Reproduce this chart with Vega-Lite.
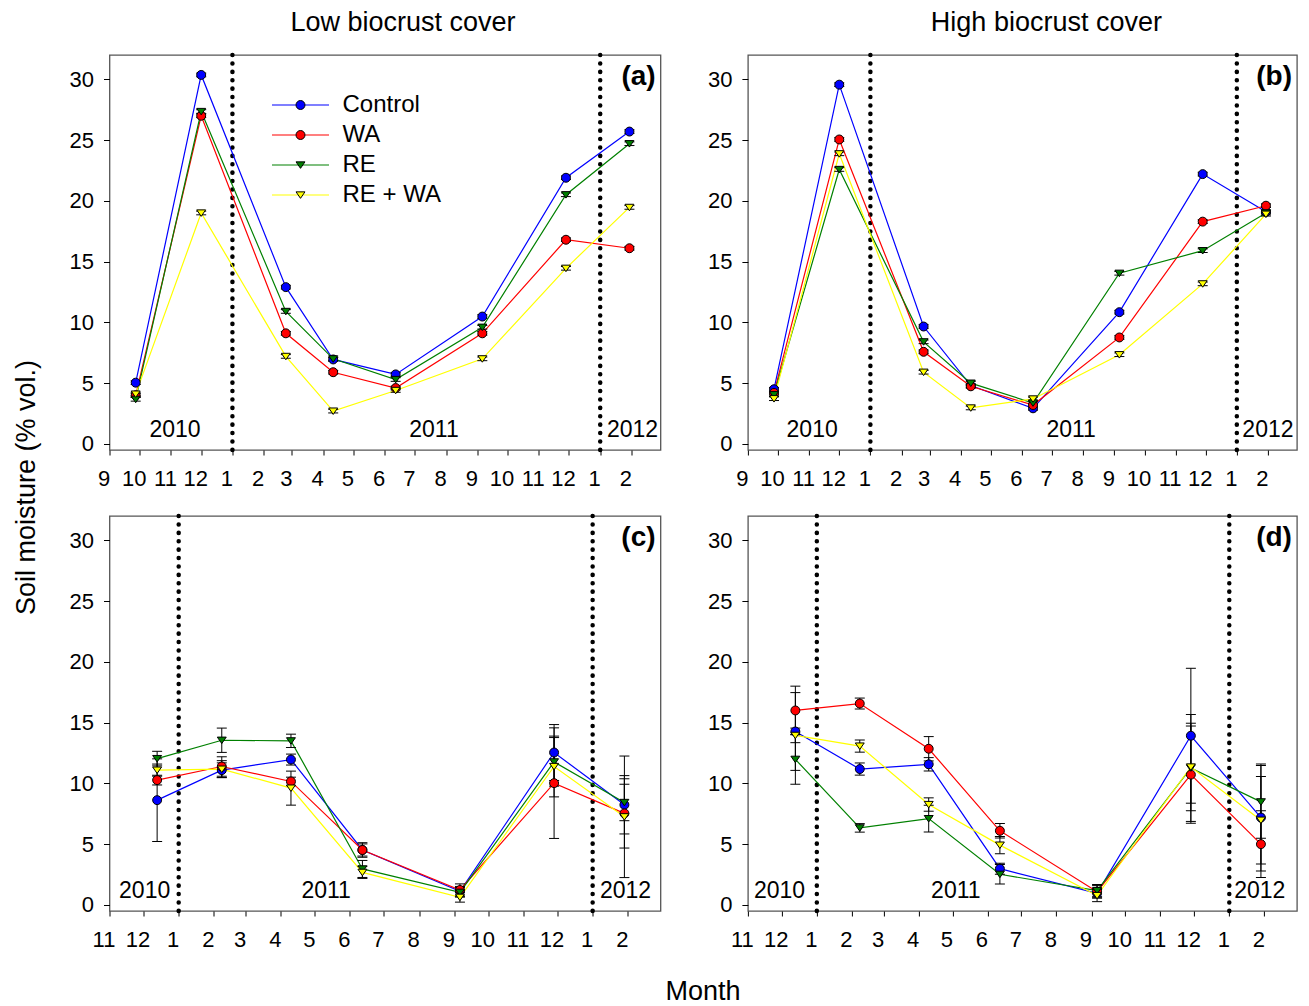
{
 "$schema": "https://vega.github.io/schema/vega-lite/v6.json",
 "autosize": {"type": "pad"},
 "padding": {"left": 11.5, "top": 8, "right": 5, "bottom": 5},
 "background": "white",
 "config": {
  "font": "Liberation Sans",
  "view": {"stroke": "#555555", "strokeWidth": 1.3},
  "axis": {"domain": false, "grid": false, "tickColor": "black", "tickWidth": 1, "labelColor": "black", "labelFont": "Liberation Sans", "labelFontSize": 22, "titleFont": "Liberation Sans", "titleFontSize": 27, "titleFontWeight": "normal", "titleColor": "black"},
  "title": {"font": "Liberation Sans", "fontSize": 27, "fontWeight": "normal", "color": "black"},
  "legend": {"labelFont": "Liberation Sans"}
 },
 "datasets": {
  "breaks": [{"d": "2011-01-01"}, {"d": "2012-01-01"}],
  "ann": [
   {"p": "a", "d": "2010-11-05", "t": "2010"}, {"p": "a", "d": "2011-07-20", "t": "2011"}, {"p": "a", "d": "2012-02-02", "t": "2012"},
   {"p": "b", "d": "2010-11-04", "t": "2010"}, {"p": "b", "d": "2011-07-20", "t": "2011"}, {"p": "b", "d": "2012-02-01", "t": "2012"},
   {"p": "c", "d": "2010-12-02", "t": "2010"}, {"p": "c", "d": "2011-05-11", "t": "2011"}, {"p": "c", "d": "2012-01-30", "t": "2012"},
   {"p": "d", "d": "2010-11-29", "t": "2010"}, {"p": "d", "d": "2011-05-04", "t": "2011"}, {"p": "d", "d": "2012-01-28", "t": "2012"}
  ],
  "lab": [
   {"p": "a", "d": "2012-02-29", "t": "(a)"}, {"p": "b", "d": "2012-02-29", "t": "(b)"},
   {"p": "c", "d": "2012-02-29", "t": "(c)"}, {"p": "d", "d": "2012-02-29", "t": "(d)"}
  ],
  "sm": [
   {"p":"a","d":"2010-09-27","s":"Control","v":5.04,"lo":4.89,"hi":5.19},
   {"p":"a","d":"2010-12-01","s":"Control","v":30.36,"lo":30.21,"hi":30.51},
   {"p":"a","d":"2011-02-23","s":"Control","v":12.9,"lo":12.75,"hi":13.05},
   {"p":"a","d":"2011-04-11","s":"Control","v":6.95,"lo":6.8,"hi":7.1},
   {"p":"a","d":"2011-06-12","s":"Control","v":5.72,"lo":5.57,"hi":5.87},
   {"p":"a","d":"2011-09-06","s":"Control","v":10.48,"lo":10.33,"hi":10.63},
   {"p":"a","d":"2011-11-28","s":"Control","v":21.9,"lo":21.75,"hi":22.05},
   {"p":"a","d":"2012-01-30","s":"Control","v":25.7,"lo":25.55,"hi":25.85},
   {"p":"a","d":"2010-09-27","s":"WA","v":4.0,"lo":3.85,"hi":4.15},
   {"p":"a","d":"2010-12-01","s":"WA","v":27.0,"lo":26.85,"hi":27.15},
   {"p":"a","d":"2011-02-23","s":"WA","v":9.1,"lo":8.95,"hi":9.25},
   {"p":"a","d":"2011-04-11","s":"WA","v":5.9,"lo":5.75,"hi":6.05},
   {"p":"a","d":"2011-06-12","s":"WA","v":4.6,"lo":4.45,"hi":4.75},
   {"p":"a","d":"2011-09-06","s":"WA","v":9.1,"lo":8.95,"hi":9.25},
   {"p":"a","d":"2011-11-28","s":"WA","v":16.8,"lo":16.65,"hi":16.95},
   {"p":"a","d":"2012-01-30","s":"WA","v":16.1,"lo":15.95,"hi":16.25},
   {"p":"a","d":"2010-09-27","s":"RE","v":3.67,"lo":3.52,"hi":3.82},
   {"p":"a","d":"2010-12-01","s":"RE","v":27.35,"lo":27.2,"hi":27.5},
   {"p":"a","d":"2011-02-23","s":"RE","v":10.9,"lo":10.75,"hi":11.05},
   {"p":"a","d":"2011-04-11","s":"RE","v":7.0,"lo":6.85,"hi":7.15},
   {"p":"a","d":"2011-06-12","s":"RE","v":5.3,"lo":5.15,"hi":5.45},
   {"p":"a","d":"2011-09-06","s":"RE","v":9.6,"lo":9.45,"hi":9.75},
   {"p":"a","d":"2011-11-28","s":"RE","v":20.5,"lo":20.35,"hi":20.65},
   {"p":"a","d":"2012-01-30","s":"RE","v":24.7,"lo":24.55,"hi":24.85},
   {"p":"a","d":"2010-09-27","s":"RE + WA","v":4.1,"lo":3.95,"hi":4.25},
   {"p":"a","d":"2010-12-01","s":"RE + WA","v":19.0,"lo":18.85,"hi":19.15},
   {"p":"a","d":"2011-02-23","s":"RE + WA","v":7.2,"lo":7.05,"hi":7.35},
   {"p":"a","d":"2011-04-11","s":"RE + WA","v":2.7,"lo":2.55,"hi":2.85},
   {"p":"a","d":"2011-06-12","s":"RE + WA","v":4.4,"lo":4.25,"hi":4.55},
   {"p":"a","d":"2011-09-06","s":"RE + WA","v":7.0,"lo":6.85,"hi":7.15},
   {"p":"a","d":"2011-11-28","s":"RE + WA","v":14.45,"lo":14.3,"hi":14.6},
   {"p":"a","d":"2012-01-30","s":"RE + WA","v":19.46,"lo":19.31,"hi":19.61},

   {"p":"b","d":"2010-09-27","s":"Control","v":4.5,"lo":4.35,"hi":4.65},
   {"p":"b","d":"2010-12-01","s":"Control","v":29.56,"lo":29.41,"hi":29.71},
   {"p":"b","d":"2011-02-23","s":"Control","v":9.66,"lo":9.51,"hi":9.81},
   {"p":"b","d":"2011-04-11","s":"Control","v":4.8,"lo":4.65,"hi":4.95},
   {"p":"b","d":"2011-06-12","s":"Control","v":2.93,"lo":2.78,"hi":3.08},
   {"p":"b","d":"2011-09-06","s":"Control","v":10.84,"lo":10.69,"hi":10.99},
   {"p":"b","d":"2011-11-28","s":"Control","v":22.2,"lo":22.05,"hi":22.35},
   {"p":"b","d":"2012-01-30","s":"Control","v":19.1,"lo":18.95,"hi":19.25},
   {"p":"b","d":"2010-09-27","s":"WA","v":4.2,"lo":4.05,"hi":4.35},
   {"p":"b","d":"2010-12-01","s":"WA","v":25.05,"lo":24.9,"hi":25.2},
   {"p":"b","d":"2011-02-23","s":"WA","v":7.58,"lo":7.43,"hi":7.73},
   {"p":"b","d":"2011-04-11","s":"WA","v":4.74,"lo":4.59,"hi":4.89},
   {"p":"b","d":"2011-06-12","s":"WA","v":3.2,"lo":3.05,"hi":3.35},
   {"p":"b","d":"2011-09-06","s":"WA","v":8.76,"lo":8.61,"hi":8.91},
   {"p":"b","d":"2011-11-28","s":"WA","v":18.29,"lo":18.14,"hi":18.44},
   {"p":"b","d":"2012-01-30","s":"WA","v":19.6,"lo":19.45,"hi":19.75},
   {"p":"b","d":"2010-09-27","s":"RE","v":4.05,"lo":3.9,"hi":4.2},
   {"p":"b","d":"2010-12-01","s":"RE","v":22.58,"lo":22.43,"hi":22.73},
   {"p":"b","d":"2011-02-23","s":"RE","v":8.4,"lo":8.25,"hi":8.55},
   {"p":"b","d":"2011-04-11","s":"RE","v":5.0,"lo":4.85,"hi":5.15},
   {"p":"b","d":"2011-06-12","s":"RE","v":3.37,"lo":3.22,"hi":3.52},
   {"p":"b","d":"2011-09-06","s":"RE","v":14.04,"lo":13.89,"hi":14.19},
   {"p":"b","d":"2011-11-28","s":"RE","v":15.9,"lo":15.75,"hi":16.05},
   {"p":"b","d":"2012-01-30","s":"RE","v":19.0,"lo":18.85,"hi":19.15},
   {"p":"b","d":"2010-09-27","s":"RE + WA","v":3.72,"lo":3.57,"hi":3.87},
   {"p":"b","d":"2010-12-01","s":"RE + WA","v":23.87,"lo":23.72,"hi":24.02},
   {"p":"b","d":"2011-02-23","s":"RE + WA","v":5.9,"lo":5.75,"hi":6.05},
   {"p":"b","d":"2011-04-11","s":"RE + WA","v":2.96,"lo":2.81,"hi":3.11},
   {"p":"b","d":"2011-06-12","s":"RE + WA","v":3.7,"lo":3.55,"hi":3.85},
   {"p":"b","d":"2011-09-06","s":"RE + WA","v":7.34,"lo":7.19,"hi":7.49},
   {"p":"b","d":"2011-11-28","s":"RE + WA","v":13.17,"lo":13.02,"hi":13.32},
   {"p":"b","d":"2012-01-30","s":"RE + WA","v":18.9,"lo":18.75,"hi":19.05},

   {"p":"c","d":"2010-12-13","s":"Control","v":8.62,"lo":5.22,"hi":12.02},
   {"p":"c","d":"2011-02-08","s":"Control","v":11.09,"lo":10.49,"hi":11.69},
   {"p":"c","d":"2011-04-10","s":"Control","v":11.96,"lo":11.51,"hi":12.41},
   {"p":"c","d":"2011-06-12","s":"Control","v":4.52,"lo":4.02,"hi":5.02},
   {"p":"c","d":"2011-09-06","s":"Control","v":1.12,"lo":0.72,"hi":1.52},
   {"p":"c","d":"2011-11-28","s":"Control","v":12.54,"lo":10.24,"hi":14.84},
   {"p":"c","d":"2012-01-29","s":"Control","v":8.24,"lo":5.84,"hi":10.64},
   {"p":"c","d":"2010-12-13","s":"WA","v":10.27,"lo":9.87,"hi":10.67},
   {"p":"c","d":"2011-02-08","s":"WA","v":11.39,"lo":10.59,"hi":12.19},
   {"p":"c","d":"2011-04-10","s":"WA","v":10.16,"lo":9.81,"hi":10.51},
   {"p":"c","d":"2011-06-12","s":"WA","v":4.52,"lo":3.92,"hi":5.12},
   {"p":"c","d":"2011-09-06","s":"WA","v":1.23,"lo":0.73,"hi":1.73},
   {"p":"c","d":"2011-11-28","s":"WA","v":10.02,"lo":5.47,"hi":14.57},
   {"p":"c","d":"2012-01-29","s":"WA","v":7.53,"lo":4.68,"hi":10.38},
   {"p":"c","d":"2010-12-13","s":"RE","v":12.04,"lo":11.44,"hi":12.64},
   {"p":"c","d":"2011-02-08","s":"RE","v":13.55,"lo":12.55,"hi":14.55},
   {"p":"c","d":"2011-04-10","s":"RE","v":13.5,"lo":12.95,"hi":14.05},
   {"p":"c","d":"2011-06-12","s":"RE","v":2.96,"lo":2.26,"hi":3.66},
   {"p":"c","d":"2011-09-06","s":"RE","v":1.04,"lo":0.64,"hi":1.44},
   {"p":"c","d":"2011-11-28","s":"RE","v":11.77,"lo":9.77,"hi":13.77},
   {"p":"c","d":"2012-01-29","s":"RE","v":8.43,"lo":6.93,"hi":9.93},
   {"p":"c","d":"2010-12-13","s":"RE + WA","v":11.09,"lo":10.59,"hi":11.59},
   {"p":"c","d":"2011-02-08","s":"RE + WA","v":11.17,"lo":10.47,"hi":11.87},
   {"p":"c","d":"2011-04-10","s":"RE + WA","v":9.61,"lo":8.21,"hi":11.01},
   {"p":"c","d":"2011-06-12","s":"RE + WA","v":2.68,"lo":2.18,"hi":3.18},
   {"p":"c","d":"2011-09-06","s":"RE + WA","v":0.63,"lo":0.23,"hi":1.03},
   {"p":"c","d":"2011-11-28","s":"RE + WA","v":11.39,"lo":8.89,"hi":13.89},
   {"p":"c","d":"2012-01-29","s":"RE + WA","v":7.25,"lo":2.25,"hi":12.25},

   {"p":"d","d":"2010-12-13","s":"Control","v":14.27,"lo":11.07,"hi":17.47},
   {"p":"d","d":"2011-02-08","s":"Control","v":11.18,"lo":10.68,"hi":11.68},
   {"p":"d","d":"2011-04-10","s":"Control","v":11.57,"lo":11.02,"hi":12.12},
   {"p":"d","d":"2011-06-12","s":"Control","v":2.98,"lo":2.53,"hi":3.43},
   {"p":"d","d":"2011-09-06","s":"Control","v":0.96,"lo":0.56,"hi":1.36},
   {"p":"d","d":"2011-11-28","s":"Control","v":13.92,"lo":8.37,"hi":19.47},
   {"p":"d","d":"2012-01-29","s":"Control","v":7.19,"lo":2.79,"hi":11.59},
   {"p":"d","d":"2010-12-13","s":"WA","v":16.0,"lo":14.0,"hi":18.0},
   {"p":"d","d":"2011-02-08","s":"WA","v":16.57,"lo":16.12,"hi":17.02},
   {"p":"d","d":"2011-04-10","s":"WA","v":12.85,"lo":11.85,"hi":13.85},
   {"p":"d","d":"2011-06-12","s":"WA","v":6.1,"lo":5.5,"hi":6.7},
   {"p":"d","d":"2011-09-06","s":"WA","v":1.09,"lo":0.59,"hi":1.59},
   {"p":"d","d":"2011-11-28","s":"WA","v":10.72,"lo":6.72,"hi":14.72},
   {"p":"d","d":"2012-01-29","s":"WA","v":5.0,"lo":2.25,"hi":7.75},
   {"p":"d","d":"2010-12-13","s":"RE","v":11.98,"lo":9.93,"hi":14.03},
   {"p":"d","d":"2011-02-08","s":"RE","v":6.34,"lo":5.99,"hi":6.69},
   {"p":"d","d":"2011-04-10","s":"RE","v":7.1,"lo":6.0,"hi":8.2},
   {"p":"d","d":"2011-06-12","s":"RE","v":2.52,"lo":1.72,"hi":3.32},
   {"p":"d","d":"2011-09-06","s":"RE","v":1.18,"lo":0.68,"hi":1.68},
   {"p":"d","d":"2011-11-28","s":"RE","v":11.27,"lo":6.87,"hi":15.67},
   {"p":"d","d":"2012-01-29","s":"RE","v":8.48,"lo":5.48,"hi":11.48},
   {"p":"d","d":"2010-12-13","s":"RE + WA","v":13.95,"lo":13.35,"hi":14.55},
   {"p":"d","d":"2011-02-08","s":"RE + WA","v":13.07,"lo":12.57,"hi":13.57},
   {"p":"d","d":"2011-04-10","s":"RE + WA","v":8.26,"lo":7.71,"hi":8.81},
   {"p":"d","d":"2011-06-12","s":"RE + WA","v":4.92,"lo":4.22,"hi":5.62},
   {"p":"d","d":"2011-09-06","s":"RE + WA","v":0.77,"lo":0.27,"hi":1.27},
   {"p":"d","d":"2011-11-28","s":"RE + WA","v":11.35,"lo":7.75,"hi":14.95},
   {"p":"d","d":"2012-01-29","s":"RE + WA","v":6.97,"lo":3.37,"hi":10.57}
  ]
 },
 "columns": 2,
 "spacing": {"row": 66, "column": 87.4},
 "bounds": "flush",
 "concat": [
  {
   "width": 551, "height": 395,
   "title": {"text": "Low biocrust cover", "anchor": "middle", "offset": 16, "dx": 18},
   "layer": [
    {"data": {"name": "breaks"}, "mark": {"type": "rule", "color": "black", "strokeWidth": 4.5, "strokeDash": [0.1, 8.3], "strokeCap": "round"},
     "encoding": {"x": {"field": "d", "type": "temporal", "scale": {"type": "utc", "nice": false, "domain": [{"year": 2010, "month": 9, "date": 1, "utc": true}, {"year": 2012, "month": 2, "date": 29, "hours": 20, "utc": true}]},
       "axis": {"title": null, "labelExpr": "utcFormat(datum.value, '%-m')", "tickCount": {"interval": "month", "step": 1}, "labelOffset": -6, "tickSize": 5, "labelPadding": 13, "labelFlush": false, "labelOverlap": false}}}},
    {"data": {"name": "ann"}, "transform": [{"filter": "datum.p == 'a'"}], "mark": {"type": "text", "fontSize": 23, "baseline": "middle", "align": "center", "color": "black"},
     "encoding": {"x": {"field": "d", "type": "temporal"}, "y": {"datum": 1.15, "type": "quantitative"}, "text": {"field": "t"}}},
    {"data": {"name": "lab"}, "transform": [{"filter": "datum.p == 'a'"}], "mark": {"type": "text", "fontSize": 28, "fontWeight": "bold", "baseline": "middle", "align": "right", "dx": -4, "color": "black"},
     "encoding": {"x": {"field": "d", "type": "temporal"}, "y": {"datum": 30.2, "type": "quantitative"}, "text": {"field": "t"}}},
    {"data": {"name": "sm"}, "transform": [{"filter": "datum.p == 'a'"}], "mark": {"type": "line", "strokeWidth": 1.2},
     "encoding": {"x": {"field": "d", "type": "temporal"},
      "y": {"field": "v", "type": "quantitative", "scale": {"domain": [-0.5, 32], "nice": false, "zero": false},
       "axis": {"values": [0, 5, 10, 15, 20, 25, 30], "tickSize": 6, "labelPadding": 10, "title": "Soil moisture (% vol.)", "titleX": -83, "titleY": 432, "titleAngle": 270, "titleBaseline": "middle", "titleAlign": "center"}},
      "stroke": {"field": "s", "type": "nominal", "scale": {"domain": ["WA", "Control", "RE", "RE + WA"], "range": ["#ff0000", "#0000ff", "#008000", "#ffff00"]},
       "legend": {"orient": "none", "legendX": 179, "legendY": 38, "title": null, "values": ["Control", "WA", "RE", "RE + WA"], "symbolType": "M-4.82,0H4.82", "symbolSize": 140, "symbolStrokeWidth": 1.2, "labelFontSize": 24, "labelOffset": 30, "labelOpacity": 0, "rowPadding": 6, "padding": 0}}}},
    {"data": {"name": "sm"}, "transform": [{"filter": "datum.p == 'a'"}], "mark": {"type": "rule", "color": "black", "strokeWidth": 1},
     "encoding": {"x": {"field": "d", "type": "temporal"}, "y": {"field": "lo", "type": "quantitative"}, "y2": {"field": "hi"}}},
    {"data": {"name": "sm"}, "transform": [{"filter": "datum.p == 'a'"}], "mark": {"type": "tick", "orient": "horizontal", "color": "black", "thickness": 1, "size": 10, "opacity": 1},
     "encoding": {"x": {"field": "d", "type": "temporal"}, "y": {"field": "lo", "type": "quantitative"}}},
    {"data": {"name": "sm"}, "transform": [{"filter": "datum.p == 'a'"}], "mark": {"type": "tick", "orient": "horizontal", "color": "black", "thickness": 1, "size": 10, "opacity": 1},
     "encoding": {"x": {"field": "d", "type": "temporal"}, "y": {"field": "hi", "type": "quantitative"}}},
    {"data": {"name": "sm"}, "transform": [{"filter": "datum.p == 'a'"}], "mark": {"type": "point", "filled": true, "opacity": 1, "stroke": "black", "strokeWidth": 1},
     "encoding": {"x": {"field": "d", "type": "temporal"}, "y": {"field": "v", "type": "quantitative"},
      "fill": {"field": "s", "type": "nominal", "scale": {"domain": ["Control", "WA", "RE", "RE + WA"], "range": ["#0000ff", "#ff0000", "#007f00", "#ffff00"]},
       "legend": {"orient": "none", "legendX": 179, "legendY": 38, "title": null, "labelFontSize": 24, "labelColor": "black", "labelOffset": 30, "rowPadding": 6, "padding": 0, "symbolStrokeColor": "black", "symbolStrokeWidth": 1, "symbolOpacity": 1, "labelLimit": 0}},
      "shape": {"field": "s", "type": "nominal", "scale": {"domain": ["Control", "WA", "RE", "RE + WA"], "range": ["circle", "circle", "M-1,-0.7L1,-0.7L0,0.75Z", "M-1,-0.7L1,-0.7L0,0.75Z"]}},
      "size": {"field": "s", "type": "nominal", "scale": {"domain": ["Control", "WA", "RE", "RE + WA"], "range": [80, 80, 140, 140]}}}}
   ]
  },
  {
   "width": 549, "height": 395,
   "title": {"text": "High biocrust cover", "anchor": "middle", "offset": 16, "dx": 24},
   "layer": [
    {"data": {"name": "breaks"}, "mark": {"type": "rule", "color": "black", "strokeWidth": 4.5, "strokeDash": [0.1, 8.3], "strokeCap": "round"},
     "encoding": {"x": {"field": "d", "type": "temporal", "scale": {"type": "utc", "nice": false, "domain": [{"year": 2010, "month": 9, "date": 1, "utc": true}, {"year": 2012, "month": 2, "date": 29, "hours": 20, "utc": true}]},
       "axis": {"title": null, "labelExpr": "utcFormat(datum.value, '%-m')", "tickCount": {"interval": "month", "step": 1}, "labelOffset": -6, "tickSize": 5, "labelPadding": 13, "labelFlush": false, "labelOverlap": false}}}},
    {"data": {"name": "ann"}, "transform": [{"filter": "datum.p == 'b'"}], "mark": {"type": "text", "fontSize": 23, "baseline": "middle", "align": "center", "color": "black"},
     "encoding": {"x": {"field": "d", "type": "temporal"}, "y": {"datum": 1.15, "type": "quantitative"}, "text": {"field": "t"}}},
    {"data": {"name": "lab"}, "transform": [{"filter": "datum.p == 'b'"}], "mark": {"type": "text", "fontSize": 28, "fontWeight": "bold", "baseline": "middle", "align": "right", "dx": -4, "color": "black"},
     "encoding": {"x": {"field": "d", "type": "temporal"}, "y": {"datum": 30.2, "type": "quantitative"}, "text": {"field": "t"}}},
    {"data": {"name": "sm"}, "transform": [{"filter": "datum.p == 'b'"}], "mark": {"type": "line", "strokeWidth": 1.2},
     "encoding": {"x": {"field": "d", "type": "temporal"},
      "y": {"field": "v", "type": "quantitative", "scale": {"domain": [-0.5, 32], "nice": false, "zero": false},
       "axis": {"values": [0, 5, 10, 15, 20, 25, 30], "tickSize": 6, "labelPadding": 10, "title": null}},
      "stroke": {"field": "s", "type": "nominal", "scale": {"domain": ["WA", "Control", "RE", "RE + WA"], "range": ["#ff0000", "#0000ff", "#008000", "#ffff00"]}}}},
    {"data": {"name": "sm"}, "transform": [{"filter": "datum.p == 'b'"}], "mark": {"type": "rule", "color": "black", "strokeWidth": 1},
     "encoding": {"x": {"field": "d", "type": "temporal"}, "y": {"field": "lo", "type": "quantitative"}, "y2": {"field": "hi"}}},
    {"data": {"name": "sm"}, "transform": [{"filter": "datum.p == 'b'"}], "mark": {"type": "tick", "orient": "horizontal", "color": "black", "thickness": 1, "size": 10, "opacity": 1},
     "encoding": {"x": {"field": "d", "type": "temporal"}, "y": {"field": "lo", "type": "quantitative"}}},
    {"data": {"name": "sm"}, "transform": [{"filter": "datum.p == 'b'"}], "mark": {"type": "tick", "orient": "horizontal", "color": "black", "thickness": 1, "size": 10, "opacity": 1},
     "encoding": {"x": {"field": "d", "type": "temporal"}, "y": {"field": "hi", "type": "quantitative"}}},
    {"data": {"name": "sm"}, "transform": [{"filter": "datum.p == 'b'"}], "mark": {"type": "point", "filled": true, "opacity": 1, "stroke": "black", "strokeWidth": 1},
     "encoding": {"x": {"field": "d", "type": "temporal"}, "y": {"field": "v", "type": "quantitative"},
      "fill": {"field": "s", "type": "nominal", "scale": {"domain": ["Control", "WA", "RE", "RE + WA"], "range": ["#0000ff", "#ff0000", "#007f00", "#ffff00"]}},
      "shape": {"field": "s", "type": "nominal", "scale": {"domain": ["Control", "WA", "RE", "RE + WA"], "range": ["circle", "circle", "M-1,-0.7L1,-0.7L0,0.75Z", "M-1,-0.7L1,-0.7L0,0.75Z"]}},
      "size": {"field": "s", "type": "nominal", "scale": {"domain": ["Control", "WA", "RE", "RE + WA"], "range": [80, 80, 140, 140]}}}}
   ]
  },
  {
   "width": 551, "height": 395,
   "layer": [
    {"data": {"name": "breaks"}, "mark": {"type": "rule", "color": "black", "strokeWidth": 4.5, "strokeDash": [0.1, 8.3], "strokeCap": "round"},
     "encoding": {"x": {"field": "d", "type": "temporal", "scale": {"type": "utc", "nice": false, "domain": [{"year": 2010, "month": 11, "date": 1, "utc": true}, {"year": 2012, "month": 2, "date": 29, "hours": 20, "utc": true}]},
       "axis": {"title": "Month", "titleX": 593, "titleY": 80, "titleBaseline": "middle", "titleAlign": "center", "titleAngle": 0, "labelExpr": "utcFormat(datum.value, '%-m')", "tickCount": {"interval": "month", "step": 1}, "labelOffset": -6, "tickSize": 5, "labelPadding": 13, "labelFlush": false, "labelOverlap": false}}}},
    {"data": {"name": "ann"}, "transform": [{"filter": "datum.p == 'c'"}], "mark": {"type": "text", "fontSize": 23, "baseline": "middle", "align": "center", "color": "black"},
     "encoding": {"x": {"field": "d", "type": "temporal"}, "y": {"datum": 1.15, "type": "quantitative"}, "text": {"field": "t"}}},
    {"data": {"name": "lab"}, "transform": [{"filter": "datum.p == 'c'"}], "mark": {"type": "text", "fontSize": 28, "fontWeight": "bold", "baseline": "middle", "align": "right", "dx": -4, "color": "black"},
     "encoding": {"x": {"field": "d", "type": "temporal"}, "y": {"datum": 30.2, "type": "quantitative"}, "text": {"field": "t"}}},
    {"data": {"name": "sm"}, "transform": [{"filter": "datum.p == 'c'"}], "mark": {"type": "line", "strokeWidth": 1.2},
     "encoding": {"x": {"field": "d", "type": "temporal"},
      "y": {"field": "v", "type": "quantitative", "scale": {"domain": [-0.5, 32], "nice": false, "zero": false},
       "axis": {"values": [0, 5, 10, 15, 20, 25, 30], "tickSize": 6, "labelPadding": 10, "title": null}},
      "stroke": {"field": "s", "type": "nominal", "scale": {"domain": ["WA", "Control", "RE", "RE + WA"], "range": ["#ff0000", "#0000ff", "#008000", "#ffff00"]}}}},
    {"data": {"name": "sm"}, "transform": [{"filter": "datum.p == 'c'"}], "mark": {"type": "rule", "color": "black", "strokeWidth": 1},
     "encoding": {"x": {"field": "d", "type": "temporal"}, "y": {"field": "lo", "type": "quantitative"}, "y2": {"field": "hi"}}},
    {"data": {"name": "sm"}, "transform": [{"filter": "datum.p == 'c'"}], "mark": {"type": "tick", "orient": "horizontal", "color": "black", "thickness": 1, "size": 10, "opacity": 1},
     "encoding": {"x": {"field": "d", "type": "temporal"}, "y": {"field": "lo", "type": "quantitative"}}},
    {"data": {"name": "sm"}, "transform": [{"filter": "datum.p == 'c'"}], "mark": {"type": "tick", "orient": "horizontal", "color": "black", "thickness": 1, "size": 10, "opacity": 1},
     "encoding": {"x": {"field": "d", "type": "temporal"}, "y": {"field": "hi", "type": "quantitative"}}},
    {"data": {"name": "sm"}, "transform": [{"filter": "datum.p == 'c'"}], "mark": {"type": "point", "filled": true, "opacity": 1, "stroke": "black", "strokeWidth": 1},
     "encoding": {"x": {"field": "d", "type": "temporal"}, "y": {"field": "v", "type": "quantitative"},
      "fill": {"field": "s", "type": "nominal", "scale": {"domain": ["Control", "WA", "RE", "RE + WA"], "range": ["#0000ff", "#ff0000", "#007f00", "#ffff00"]}},
      "shape": {"field": "s", "type": "nominal", "scale": {"domain": ["Control", "WA", "RE", "RE + WA"], "range": ["circle", "circle", "M-1,-0.7L1,-0.7L0,0.75Z", "M-1,-0.7L1,-0.7L0,0.75Z"]}},
      "size": {"field": "s", "type": "nominal", "scale": {"domain": ["Control", "WA", "RE", "RE + WA"], "range": [80, 80, 140, 140]}}}}
   ]
  },
  {
   "width": 549, "height": 395,
   "layer": [
    {"data": {"name": "breaks"}, "mark": {"type": "rule", "color": "black", "strokeWidth": 4.5, "strokeDash": [0.1, 8.3], "strokeCap": "round"},
     "encoding": {"x": {"field": "d", "type": "temporal", "scale": {"type": "utc", "nice": false, "domain": [{"year": 2010, "month": 11, "date": 1, "utc": true}, {"year": 2012, "month": 2, "date": 29, "hours": 20, "utc": true}]},
       "axis": {"title": null, "labelExpr": "utcFormat(datum.value, '%-m')", "tickCount": {"interval": "month", "step": 1}, "labelOffset": -6, "tickSize": 5, "labelPadding": 13, "labelFlush": false, "labelOverlap": false}}}},
    {"data": {"name": "ann"}, "transform": [{"filter": "datum.p == 'd'"}], "mark": {"type": "text", "fontSize": 23, "baseline": "middle", "align": "center", "color": "black"},
     "encoding": {"x": {"field": "d", "type": "temporal"}, "y": {"datum": 1.15, "type": "quantitative"}, "text": {"field": "t"}}},
    {"data": {"name": "lab"}, "transform": [{"filter": "datum.p == 'd'"}], "mark": {"type": "text", "fontSize": 28, "fontWeight": "bold", "baseline": "middle", "align": "right", "dx": -4, "color": "black"},
     "encoding": {"x": {"field": "d", "type": "temporal"}, "y": {"datum": 30.2, "type": "quantitative"}, "text": {"field": "t"}}},
    {"data": {"name": "sm"}, "transform": [{"filter": "datum.p == 'd'"}], "mark": {"type": "line", "strokeWidth": 1.2},
     "encoding": {"x": {"field": "d", "type": "temporal"},
      "y": {"field": "v", "type": "quantitative", "scale": {"domain": [-0.5, 32], "nice": false, "zero": false},
       "axis": {"values": [0, 5, 10, 15, 20, 25, 30], "tickSize": 6, "labelPadding": 10, "title": null}},
      "stroke": {"field": "s", "type": "nominal", "scale": {"domain": ["WA", "Control", "RE", "RE + WA"], "range": ["#ff0000", "#0000ff", "#008000", "#ffff00"]}}}},
    {"data": {"name": "sm"}, "transform": [{"filter": "datum.p == 'd'"}], "mark": {"type": "rule", "color": "black", "strokeWidth": 1},
     "encoding": {"x": {"field": "d", "type": "temporal"}, "y": {"field": "lo", "type": "quantitative"}, "y2": {"field": "hi"}}},
    {"data": {"name": "sm"}, "transform": [{"filter": "datum.p == 'd'"}], "mark": {"type": "tick", "orient": "horizontal", "color": "black", "thickness": 1, "size": 10, "opacity": 1},
     "encoding": {"x": {"field": "d", "type": "temporal"}, "y": {"field": "lo", "type": "quantitative"}}},
    {"data": {"name": "sm"}, "transform": [{"filter": "datum.p == 'd'"}], "mark": {"type": "tick", "orient": "horizontal", "color": "black", "thickness": 1, "size": 10, "opacity": 1},
     "encoding": {"x": {"field": "d", "type": "temporal"}, "y": {"field": "hi", "type": "quantitative"}}},
    {"data": {"name": "sm"}, "transform": [{"filter": "datum.p == 'd'"}], "mark": {"type": "point", "filled": true, "opacity": 1, "stroke": "black", "strokeWidth": 1},
     "encoding": {"x": {"field": "d", "type": "temporal"}, "y": {"field": "v", "type": "quantitative"},
      "fill": {"field": "s", "type": "nominal", "scale": {"domain": ["Control", "WA", "RE", "RE + WA"], "range": ["#0000ff", "#ff0000", "#007f00", "#ffff00"]}},
      "shape": {"field": "s", "type": "nominal", "scale": {"domain": ["Control", "WA", "RE", "RE + WA"], "range": ["circle", "circle", "M-1,-0.7L1,-0.7L0,0.75Z", "M-1,-0.7L1,-0.7L0,0.75Z"]}},
      "size": {"field": "s", "type": "nominal", "scale": {"domain": ["Control", "WA", "RE", "RE + WA"], "range": [80, 80, 140, 140]}}}}
   ]
  }
 ]
}
